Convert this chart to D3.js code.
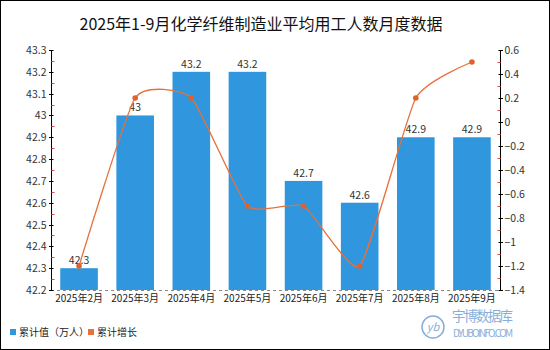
<!DOCTYPE html>
<html>
<head>
<meta charset="utf-8">
<script src="https://cdn.jsdelivr.net/npm/d3@7/dist/d3.min.js"></script>
<style>
  html, body { margin: 0; padding: 0; background: #fff; }
  svg { display: block; font-family: "Noto Sans CJK SC", "Noto Sans", sans-serif; }
</style>
</head>
<body>
<svg id="chart" width="550" height="350"></svg>
<script>
// Monthly data, Feb–Sep 2025
const months = ["2025年2月", "2025年3月", "2025年4月", "2025年5月", "2025年6月", "2025年7月", "2025年8月", "2025年9月"];
const workers = [42.3, 43, 43.2, 43.2, 42.7, 42.6, 42.9, 42.9];   // 累计值（万人）
const growth = [-1.2, 0.2, 0.2, -0.7, -0.7, -1.2, 0.2, 0.5];       // 累计增长（%）
const leftTicks = [42.2, 42.3, 42.4, 42.5, 42.6, 42.7, 42.8, 42.9, 43, 43.1, 43.2, 43.3];
const rightTicks = [-1.4, -1.2, -1, -0.8, -0.6, -0.4, -0.2, 0, 0.2, 0.4, 0.6];

const W = 550, H = 350;
const m = { left: 51, right: 500, top: 50, bottom: 290 };
const barColor = "#3096de", lineColor = "#e8703a", dotColor = "#e0622a";

const svg = d3.select("#chart");

// outer frame
svg.append("rect").attr("x", 0.5).attr("y", 0.5).attr("width", W - 1).attr("height", H - 1)
  .attr("fill", "#fff").attr("stroke", "#000").attr("stroke-width", 1);

// title
svg.append("text").attr("x", 261).attr("y", 30).attr("text-anchor", "middle")
  .attr("font-size", 16).attr("fill", "#111")
  .text("2025年1-9月化学纤维制造业平均用工人数月度数据");

const x = d3.scaleBand().domain(months).range([m.left, m.right]).paddingInner(0.33).paddingOuter(0.165);
const yL = d3.scaleLinear().domain([42.2, 43.3]).range([m.bottom, m.top]);
const yR = d3.scaleLinear().domain([-1.4, 0.6]).range([m.bottom, m.top]);

// bars
svg.append("g").selectAll("rect").data(workers).join("rect")
  .attr("x", (d, i) => x(months[i]))
  .attr("y", d => yL(d))
  .attr("width", x.bandwidth())
  .attr("height", d => m.bottom - yL(d))
  .attr("fill", barColor);

// bottom baseline (dashed)
svg.append("line").attr("x1", m.left).attr("x2", m.right).attr("y1", m.bottom + 0.5).attr("y2", m.bottom + 0.5)
  .attr("stroke", "#888").attr("stroke-dasharray", "3,3").attr("stroke-width", 1);

// left axis
const fmtL = d3.format(".1~f");
const gL = svg.append("g").attr("transform", `translate(${m.left + 0.5},0)`);
gL.append("line").attr("y1", m.top).attr("y2", m.bottom).attr("stroke", "#000");
leftTicks.forEach(t => {
  const yy = Math.round(yL(t)) + 0.5;
  gL.append("line").attr("x1", -2.5).attr("x2", 2).attr("y1", yy).attr("y2", yy).attr("stroke", "#000");
  gL.append("text").attr("x", -5).attr("y", yy).attr("dy", "0.35em").attr("text-anchor", "end")
    .attr("font-size", 10.5).attr("fill", "#333").text(fmtL(t));
});
d3.pairs(leftTicks).forEach(([a, b]) => {
  const yy = Math.round(yL((a + b) / 2)) + 0.5;
  gL.append("line").attr("x1", 0).attr("x2", 3).attr("y1", yy).attr("y2", yy).attr("stroke", "#e34a4a");
});

// right axis
const fmtR = d3.format(".1~f");
const gR = svg.append("g").attr("transform", `translate(${m.right + 0.5},0)`);
gR.append("line").attr("y1", m.top).attr("y2", m.bottom).attr("stroke", "#000");
rightTicks.forEach(t => {
  const yy = Math.round(yR(t)) + 0.5;
  gR.append("line").attr("x1", -2).attr("x2", 2.5).attr("y1", yy).attr("y2", yy).attr("stroke", "#000");
  gR.append("text").attr("x", 4).attr("y", yy).attr("dy", "0.35em").attr("text-anchor", "start")
    .attr("font-size", 10.5).attr("fill", "#333").text(fmtR(t));
});
d3.pairs(rightTicks).forEach(([a, b]) => {
  const yy = Math.round(yR((a + b) / 2)) + 0.5;
  gR.append("line").attr("x1", -3).attr("x2", 0).attr("y1", yy).attr("y2", yy).attr("stroke", "#e34a4a");
});

// x labels
svg.append("g").selectAll("text").data(months).join("text")
  .attr("x", d => x(d) + x.bandwidth() / 2)
  .attr("y", m.bottom + 12)
  .attr("text-anchor", "middle").attr("font-size", 10).attr("fill", "#222")
  .text(d => d);

// bar value labels
svg.append("g").selectAll("text").data(workers).join("text")
  .attr("x", (d, i) => x(months[i]) + x.bandwidth() / 2)
  .attr("y", d => yL(d) - 4)
  .attr("text-anchor", "middle").attr("font-size", 10.5).attr("fill", "#333")
  .text(d => fmtL(d));

// growth line
const cx = (d, i) => x(months[i]) + x.bandwidth() / 2;
const line = d3.line().x(cx).y(d => yR(d)).curve(d3.curveCardinal.tension(0.5));
svg.append("path").datum(growth).attr("d", line)
  .attr("fill", "none").attr("stroke", lineColor).attr("stroke-width", 1.3);
svg.append("g").selectAll("circle").data(growth).join("circle")
  .attr("cx", cx).attr("cy", d => yR(d)).attr("r", 2.8).attr("fill", dotColor);

// legend
const lg = svg.append("g").attr("font-size", 10).attr("fill", "#222");
lg.append("rect").attr("x", 10).attr("y", 329).attr("width", 6).attr("height", 6).attr("fill", barColor);
lg.append("text").attr("x", 19).attr("y", 335.5).text("累计值（万人）");
lg.append("rect").attr("x", 88).attr("y", 329).attr("width", 6).attr("height", 6).attr("fill", lineColor);
lg.append("text").attr("x", 97).attr("y", 335.5).text("累计增长");

// watermark
const wm = svg.append("g").attr("opacity", 0.8);
wm.append("circle").attr("cx", 433).attr("cy", 327).attr("r", 11).attr("fill", "none")
  .attr("stroke", "#6a9bd3").attr("stroke-width", 1.5);
wm.append("text").attr("x", 433).attr("y", 331).attr("text-anchor", "middle")
  .attr("font-size", 11).attr("font-style", "italic").attr("fill", "#6a9bd3").text("yb");
wm.append("text").attr("x", 452).attr("y", 321).attr("font-size", 13.5)
  .attr("fill", "#6a9bd3").attr("textLength", 61).text("宇博数据库");
wm.append("text").attr("x", 453).attr("y", 337).attr("font-size", 10)
  .attr("fill", "#6a9bd3").attr("textLength", 60).text("D.YUBOINFO.COM");
</script>
</body>
</html>
